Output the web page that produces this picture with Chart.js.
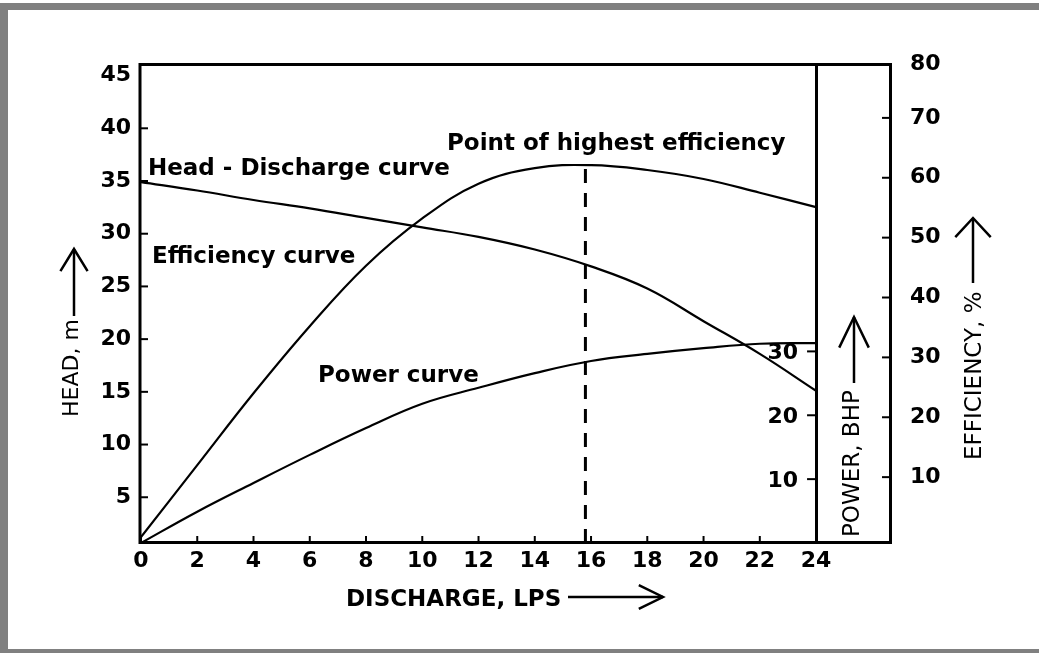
<!DOCTYPE html>
<html>
<head>
<meta charset="utf-8">
<title>Pump characteristic curves</title>
<script src="https://cdn.jsdelivr.net/npm/chart.js@4.4.1/dist/chart.umd.min.js"></script>
<style>
    html, body { margin: 0; padding: 0; background: #fff; }
    #page {
        position: absolute; left: 0; top: 3px; width: 1039px; height: 650px;
        box-sizing: border-box;
        border-top: 7px solid #808080;
        border-left: 8px solid #808080;
        border-bottom: 4px solid #808080;
    }
    #chart { position: absolute; left: 0; top: 0; }
</style>
</head>
<body>
<div id="page"></div>
<canvas id="chart" width="1039" height="653"></canvas>
<script>
// ========================================
// DATA
// ========================================

// tick labels
const dischargeTicks = [0, 2, 4, 6, 8, 10, 12, 14, 16, 18, 20, 22, 24];
const headTicks = [5, 10, 15, 20, 25, 30, 35, 40, 45];
const efficiencyTicks = [10, 20, 30, 40, 50, 60, 70, 80];
const powerTicks = [10, 20, 30];

// series (discharge in LPS)
const discharge = [0, 2, 4, 6, 8, 10, 12, 14, 16, 18, 20, 22, 24];
const headValues = [34.9, 34.1, 33.2, 32.4, 31.5, 30.6, 29.7, 28.5, 26.9, 24.8, 21.7, 18.6, 15.1];
const efficiencyValues = [0, 12.0, 24.0, 35.2, 45.3, 53.2, 59.0, 61.6, 62.1, 61.3, 59.8, 57.5, 55.1];
const powerValues = [0, 4.9, 9.4, 13.8, 18.0, 21.8, 24.3, 26.6, 28.5, 29.6, 30.5, 31.2, 31.3];

// point of highest efficiency
const peakDischarge = 15.8;
const peakEfficiency = 62.2;

// ========================================
// STYLE
// ========================================

const INK = '#000';
const TICK_FONT = { family: "'DejaVu Sans', sans-serif", size: 22, weight: 'bold' };
const TICK_FONT_CSS = "bold 22px 'DejaVu Sans', sans-serif";
const NOTE_FONT = "bold 23px 'DejaVu Sans', sans-serif";
const TITLE_FONT = "23px 'DejaVu Sans', sans-serif";

const EFF_MIN = -1;

function toPoints(xs, ys) {
    return xs.map((x, i) => ({ x, y: ys[i] }));
}

function line(ctx, x1, y1, x2, y2) {
    ctx.beginPath();
    ctx.moveTo(x1, y1);
    ctx.lineTo(x2, y2);
    ctx.stroke();
}

function arrow(ctx, x1, y1, x2, y2, headLen, spread) {
    const ang = Math.atan2(y2 - y1, x2 - x1);
    line(ctx, x1, y1, x2, y2);
    ctx.beginPath();
    ctx.moveTo(x2 - headLen * Math.cos(ang - spread), y2 - headLen * Math.sin(ang - spread));
    ctx.lineTo(x2, y2);
    ctx.lineTo(x2 - headLen * Math.cos(ang + spread), y2 - headLen * Math.sin(ang + spread));
    ctx.stroke();
}

function verticalText(ctx, text, cx, yStart, font) {
    ctx.save();
    ctx.translate(cx, yStart);
    ctx.rotate(-Math.PI / 2);
    ctx.font = font;
    ctx.textAlign = 'left';
    ctx.textBaseline = 'middle';
    ctx.fillText(text, 0, 0);
    ctx.restore();
}

// frame, inward ticks, power labels, titles and notes
const decorations = {
    id: 'decorations',
    afterDraw(chart) {
        const ctx = chart.ctx;
        const { x, head, eff, power } = chart.scales;
        const area = chart.chartArea;
        const powerX = x.getPixelForValue(24);

        ctx.save();
        ctx.strokeStyle = INK;
        ctx.fillStyle = INK;

        // outer box
        ctx.lineWidth = 3;
        ctx.strokeRect(area.left - 1, area.top + 0.5, area.right - area.left - 0.5, area.bottom - area.top - 1);

        // tick marks pointing into the plot
        ctx.lineWidth = 2;
        x.ticks.forEach(t => {
            const px = x.getPixelForValue(t.value);
            line(ctx, px, area.bottom, px, area.bottom - 7);
        });
        head.ticks.slice(0, -1).forEach(t => {
            const py = head.getPixelForValue(t.value);
            line(ctx, area.left, py, area.left + 7, py);
        });
        eff.ticks.slice(0, -1).forEach(t => {
            const py = eff.getPixelForValue(t.value);
            line(ctx, area.right - 10, py, area.right, py);
        });

        // power axis ticks and labels, left of its line
        ctx.font = TICK_FONT_CSS;
        ctx.textAlign = 'right';
        ctx.textBaseline = 'middle';
        power.ticks.forEach(t => {
            const py = power.getPixelForValue(t.value);
            line(ctx, powerX - 9, py, powerX, py);
            ctx.fillText(String(t.value), powerX - 18, py + 2);
        });

        // axis titles
        ctx.font = "bold 23px 'DejaVu Sans', sans-serif";
        ctx.textAlign = 'left';
        ctx.textBaseline = 'alphabetic';
        ctx.fillText('DISCHARGE, LPS', 346, 606);
        verticalText(ctx, 'HEAD, m', 72, 417, "22px 'DejaVu Sans', sans-serif");
        verticalText(ctx, 'POWER, BHP', 853, 537, TITLE_FONT);
        verticalText(ctx, 'EFFICIENCY, %', 975, 460, TITLE_FONT);

        // arrows
        ctx.lineWidth = 2.5;
        arrow(ctx, 568, 597, 663, 597, 27, 0.46);
        arrow(ctx, 74, 316, 74, 249, 26, 0.55);
        arrow(ctx, 854, 383, 854, 317, 34, 0.45);
        arrow(ctx, 973, 283, 973, 218, 26, 0.75);

        // curve notes
        ctx.font = NOTE_FONT;
        ctx.fillText('Point of highest efficiency', 447, 150);
        ctx.fillText('Head - Discharge curve', 148, 175);
        ctx.fillText('Efficiency curve', 152, 263);
        ctx.fillText('Power curve', 318, 382);

        ctx.restore();
    }
};

const curveStyle = {
    borderColor: INK,
    borderWidth: 2.2,
    pointRadius: 0,
    fill: false,
    tension: 0.4
};

new Chart(document.getElementById('chart'), {
    type: 'line',
    data: {
        datasets: [
            { ...curveStyle, label: 'Head', data: toPoints(discharge, headValues), yAxisID: 'head' },
            { ...curveStyle, label: 'Efficiency', data: toPoints(discharge, efficiencyValues), yAxisID: 'eff' },
            { ...curveStyle, label: 'Power', data: toPoints(discharge, powerValues), yAxisID: 'power' },
            {
                label: 'Highest efficiency',
                data: [{ x: peakDischarge, y: EFF_MIN }, { x: peakDischarge, y: peakEfficiency }],
                yAxisID: 'eff',
                borderColor: INK,
                borderWidth: 3,
                borderDash: [14, 10],
                pointRadius: 0
            }
        ]
    },
    options: {
        responsive: false,
        animation: false,
        events: [],
        layout: { padding: { top: 64, left: 0, right: 0, bottom: 0 } },
        plugins: {
            legend: { display: false },
            tooltip: { enabled: false }
        },
        scales: {
            x: {
                type: 'linear',
                position: 'bottom',
                min: 0,
                max: 26.7,
                border: { display: false },
                grid: { display: false, drawTicks: false },
                afterBuildTicks: s => { s.ticks = dischargeTicks.map(v => ({ value: v })); },
                afterFit: s => { s.height = 110; },
                ticks: { font: TICK_FONT, color: INK, padding: 5, maxRotation: 0, autoSkip: false }
            },
            head: {
                axis: 'y',
                type: 'linear',
                position: 'left',
                min: 0.66,
                max: 46.1,
                border: { display: false },
                grid: { display: false, drawTicks: false },
                afterBuildTicks: s => { s.ticks = headTicks.map(v => ({ value: v })); },
                afterFit: s => { s.width = 141; },
                ticks: { font: TICK_FONT, color: INK, padding: 10, autoSkip: false }
            },
            eff: {
                axis: 'y',
                type: 'linear',
                position: 'right',
                min: EFF_MIN,
                max: 79,
                border: { display: false },
                grid: { display: false, drawTicks: false },
                afterBuildTicks: s => { s.ticks = efficiencyTicks.map(v => ({ value: Math.min(v, s.max) })); },
                afterFit: s => { s.width = 147; },
                ticks: {
                    font: TICK_FONT, color: INK, padding: 18, autoSkip: false,
                    callback: (value, index) => String(efficiencyTicks[index])
                }
            },
            power: {
                axis: 'y',
                type: 'linear',
                position: { x: 24 },
                min: 0,
                max: 75,
                border: { display: true, color: INK, width: 3 },
                grid: { display: true, drawOnChartArea: false, drawTicks: false },
                afterBuildTicks: s => { s.ticks = powerTicks.map(v => ({ value: v })); },
                ticks: { display: false }
            }
        }
    },
    plugins: [decorations]
});
</script>
</body>
</html>
